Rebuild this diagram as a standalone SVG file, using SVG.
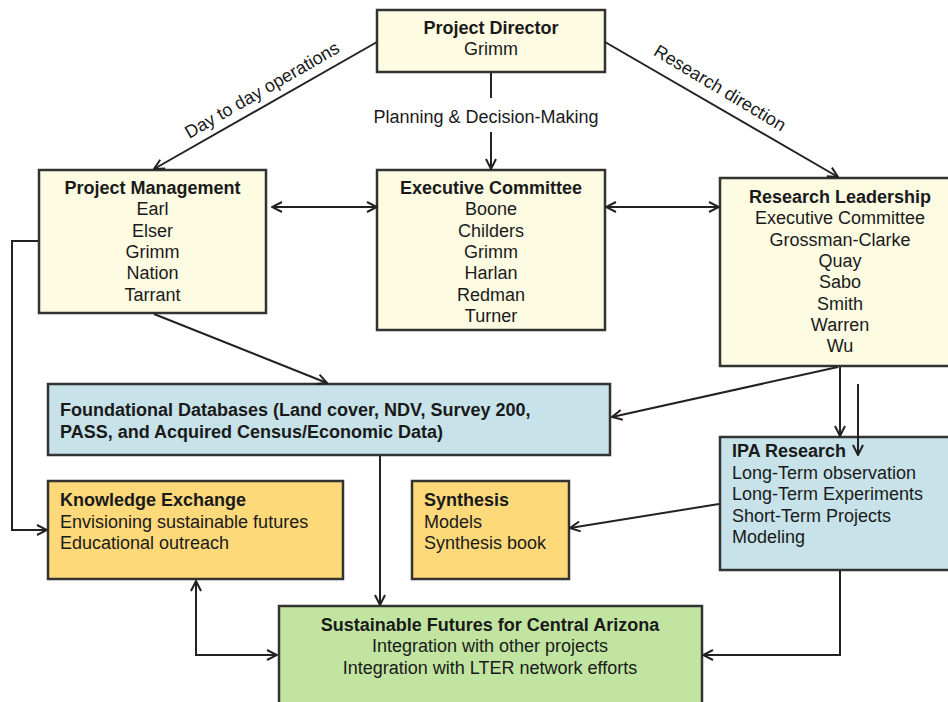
<svg xmlns="http://www.w3.org/2000/svg" width="948" height="702" viewBox="0 0 948 702">
<defs>
<style>
text{font-family:"Liberation Sans",Arial,sans-serif;font-size:18px;fill:#1a1a1a}
.b{font-weight:bold}
.c{text-anchor:middle}
.box{stroke:#333;stroke-width:2.5}
.cream{fill:#fdfbe2}
.blue{fill:#c7e3e9}
.yel{fill:#fdd97a}
.grn{fill:#c1e4a1}
.ln{fill:none;stroke:#222;stroke-width:2}
</style>
<marker id="arr" viewBox="0 0 12 12" refX="11" refY="6" markerWidth="12" markerHeight="12" orient="auto-start-reverse" markerUnits="userSpaceOnUse">
<path d="M1,1 L11,6 L1,11" fill="none" stroke="#222" stroke-width="2"/>
</marker>
</defs>

<g id="project-director">
<rect class="box cream" x="377" y="10" width="228" height="62"/>
<text class="b c" x="491" y="34">Project Director</text>
<text class="c" x="491" y="54.5">Grimm</text>
</g>

<g id="project-management">
<rect class="box cream" x="39" y="170" width="227" height="143"/>
<text class="b c" x="152.5" y="194">Project Management</text>
<text class="c" x="152.5" y="215.3">Earl</text>
<text class="c" x="152.5" y="236.6">Elser</text>
<text class="c" x="152.5" y="257.9">Grimm</text>
<text class="c" x="152.5" y="279.2">Nation</text>
<text class="c" x="152.5" y="300.5">Tarrant</text>
</g>

<g id="executive-committee">
<rect class="box cream" x="377" y="170" width="228" height="160"/>
<text class="b c" x="491" y="194">Executive Committee</text>
<text class="c" x="491" y="215.3">Boone</text>
<text class="c" x="491" y="236.6">Childers</text>
<text class="c" x="491" y="257.9">Grimm</text>
<text class="c" x="491" y="279.2">Harlan</text>
<text class="c" x="491" y="300.5">Redman</text>
<text class="c" x="491" y="321.8">Turner</text>
</g>

<g id="research-leadership">
<rect class="box cream" x="720" y="178" width="240" height="188"/>
<text class="b c" x="840" y="203">Research Leadership</text>
<text class="c" x="840" y="224.3">Executive Committee</text>
<text class="c" x="840" y="245.6">Grossman-Clarke</text>
<text class="c" x="840" y="266.9">Quay</text>
<text class="c" x="840" y="288.2">Sabo</text>
<text class="c" x="840" y="309.5">Smith</text>
<text class="c" x="840" y="330.8">Warren</text>
<text class="c" x="840" y="352.1">Wu</text>
</g>

<g id="foundational-databases">
<rect class="box blue" x="48" y="384" width="562" height="71"/>
<text class="b" x="60" y="416">Foundational Databases (Land cover, NDV, Survey 200,</text>
<text class="b" x="60" y="437.5">PASS, and Acquired Census/Economic Data)</text>
</g>

<g id="knowledge-exchange">
<rect class="box yel" x="48" y="481" width="295" height="98"/>
<text class="b" x="60" y="506">Knowledge Exchange</text>
<text x="60" y="527.5">Envisioning sustainable futures</text>
<text x="60" y="549">Educational outreach</text>
</g>

<g id="synthesis">
<rect class="box yel" x="412" y="481" width="157" height="98"/>
<text class="b" x="424" y="506">Synthesis</text>
<text x="424" y="527.5">Models</text>
<text x="424" y="549">Synthesis book</text>
</g>

<g id="ipa-research">
<rect class="box blue" x="720" y="437" width="240" height="133"/>
<text class="b" x="732" y="457">IPA Research</text>
<text x="732" y="478.5">Long-Term observation</text>
<text x="732" y="500">Long-Term Experiments</text>
<text x="732" y="521.5">Short-Term Projects</text>
<text x="732" y="543">Modeling</text>
</g>

<g id="sustainable-futures">
<rect class="box grn" x="279" y="606" width="423" height="110"/>
<text class="b c" x="490" y="631">Sustainable Futures for Central Arizona</text>
<text class="c" x="490" y="652.3">Integration with other projects</text>
<text class="c" x="490" y="673.6">Integration with LTER network efforts</text>
</g>

<g id="connectors">
<line class="ln" x1="377" y1="42" x2="154" y2="169" marker-end="url(#arr)"/>
<line class="ln" x1="491" y1="73" x2="491" y2="98"/>
<line class="ln" x1="491" y1="132" x2="491" y2="169" marker-end="url(#arr)"/>
<line class="ln" x1="605" y1="42" x2="838" y2="177" marker-end="url(#arr)"/>
<line class="ln" x1="272" y1="207" x2="377" y2="207" marker-start="url(#arr)" marker-end="url(#arr)"/>
<line class="ln" x1="606" y1="207" x2="719" y2="207" marker-start="url(#arr)" marker-end="url(#arr)"/>
<line class="ln" x1="154" y1="314" x2="327" y2="383" marker-end="url(#arr)"/>
<polyline class="ln" points="38,241 12,241 12,530 47,530" marker-end="url(#arr)"/>
<line class="ln" x1="838" y1="367" x2="612" y2="417" marker-end="url(#arr)"/>
<line class="ln" x1="840" y1="367" x2="840" y2="436" marker-end="url(#arr)"/>
<line class="ln" x1="858" y1="384" x2="858" y2="455" marker-end="url(#arr)"/>
<line class="ln" x1="719" y1="504" x2="570" y2="528" marker-end="url(#arr)"/>
<line class="ln" x1="380" y1="456" x2="380" y2="605" marker-end="url(#arr)"/>
<polyline class="ln" points="196,581 196,655 277,655" marker-start="url(#arr)" marker-end="url(#arr)"/>
<polyline class="ln" points="840,571 840,655 703,655" marker-end="url(#arr)"/>
<text class="c" transform="translate(262,90) rotate(-30)" y="6">Day to day operations</text>
<text class="c" x="486" y="123">Planning &amp; Decision-Making</text>
<text class="c" transform="translate(720,88) rotate(31)" y="6">Research direction</text>
</g>
</svg>
